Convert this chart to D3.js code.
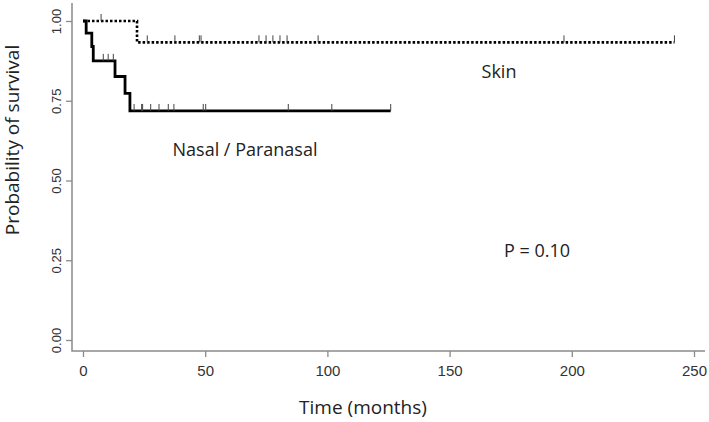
<!DOCTYPE html>
<html>
<head>
<meta charset="utf-8">
<script src="https://cdn.jsdelivr.net/npm/d3@7"></script>
<style>
  body { margin: 0; background: #fff; }
  svg { display: block; }
</style>
</head>
<body>
<svg id="chart" width="709" height="422"></svg>
<script>
// Kaplan-Meier curves
var skinTimes = [0, 22.1, 242];
var skinSurv = [1, 0.933, 0.933];
var skinCensor = [7.4, 26.3, 37.6, 47.6, 48.3, 72, 74.9, 77.7, 80.6, 83.5, 96.2, 196.8, 242];

var nasalTimes = [0, 1.3, 3.6, 4.2, 13.1, 17.2, 19.2, 125.9];
var nasalSurv = [1, 0.962, 0.92, 0.875, 0.826, 0.773, 0.718, 0.718];
var nasalCensor = [8.3, 10.3, 12.4, 20.9, 24.0, 24.4, 27.7, 31.1, 34.9, 37.2, 49.2, 50.2, 84.0, 101.8, 125.9];

var xTicks = [0, 50, 100, 150, 200, 250];
var yTicks = [0, 0.25, 0.5, 0.75, 1];

var svg = d3.select('#chart');
var axisColor = '#8a8a8a';

var x = d3.scaleLinear().domain([0, 250]).range([83, 694]);
var y = d3.scaleLinear().domain([0, 1]).range([340, 21]);

// L shaped frame
svg.append('path')
    .attr('d', 'M72,3V351H705')
    .attr('fill', 'none')
    .attr('stroke', axisColor)
    .attr('stroke-width', 1.5);

// x axis
var gx = svg.append('g')
    .attr('transform', 'translate(0,351)')
    .call(d3.axisBottom(x).tickValues(xTicks).tickSize(6).tickPadding(8).tickFormat(d3.format('d')));
gx.select('.domain').remove();
gx.selectAll('line').attr('stroke', axisColor).attr('stroke-width', 1.3);
gx.selectAll('text')
    .attr('fill', '#333')
    .style('font-family', 'Liberation Sans, Arial, sans-serif')
    .style('font-size', '15px');

// y axis (labels rotated like R)
var gy = svg.append('g')
    .attr('transform', 'translate(72,0)')
    .call(d3.axisLeft(y).tickValues(yTicks).tickSize(6).tickFormat(d3.format('.2f')));
gy.select('.domain').remove();
gy.selectAll('line').attr('stroke', axisColor).attr('stroke-width', 1.3);
gy.selectAll('text')
    .attr('x', null).attr('dy', null)
    .attr('text-anchor', 'middle')
    .attr('transform', 'translate(-11,0) rotate(-90)')
    .attr('fill', '#333')
    .style('font-family', 'Liberation Sans, Arial, sans-serif')
    .style('font-size', '13px');

// step curves
var line = d3.line()
    .x(function (d) { return x(d[0]); })
    .y(function (d) { return y(d[1]); })
    .curve(d3.curveStepAfter);

function stepAt(times, surv, t) {
    var s = surv[0];
    for (var i = 0; i < times.length; i++) {
        if (times[i] <= t) s = surv[i];
    }
    return s;
}

function drawCurve(times, surv, censor, dash, width) {
    var pts = d3.zip(times, surv);
    svg.append('path')
        .attr('d', line(pts))
        .attr('fill', 'none')
        .attr('stroke', '#000')
        .attr('stroke-width', width)
        .attr('stroke-dasharray', dash);
    // censoring marks
    svg.append('g').selectAll('line')
        .data(censor)
        .enter().append('line')
        .attr('x1', function (d) { return x(d); })
        .attr('x2', function (d) { return x(d); })
        .attr('y1', function (d) { return y(stepAt(times, surv, d)); })
        .attr('y2', function (d) { return y(stepAt(times, surv, d)) - 7; })
        .attr('stroke', '#444')
        .attr('stroke-width', 1);
}

drawCurve(skinTimes, skinSurv, skinCensor, '2.5,2', 2.6);
drawCurve(nasalTimes, nasalSurv, nasalCensor, null, 2.8);

// titles and labels
var font = 'Open Sans, Noto Sans, sans-serif';
svg.append('text')
    .attr('x', 363).attr('y', 414)
    .attr('text-anchor', 'middle')
    .style('font-family', font).style('font-size', '19px')
    .attr('fill', '#222')
    .text('Time (months)');

svg.append('text')
    .attr('transform', 'translate(19,140) rotate(-90)')
    .attr('text-anchor', 'middle')
    .style('font-family', font).style('font-size', '19px')
    .attr('fill', '#222')
    .text('Probability of survival');

svg.append('text')
    .attr('x', 499).attr('y', 78)
    .attr('text-anchor', 'middle')
    .style('font-family', font).style('font-size', '18px')
    .attr('fill', '#222')
    .text('Skin');

svg.append('text')
    .attr('x', 245).attr('y', 156)
    .attr('text-anchor', 'middle')
    .style('font-family', font).style('font-size', '18px')
    .attr('fill', '#222')
    .text('Nasal / Paranasal');

svg.append('text')
    .attr('x', 537).attr('y', 257)
    .attr('text-anchor', 'middle')
    .style('font-family', font).style('font-size', '18px')
    .attr('fill', '#222')
    .text('P = 0.10');
</script>
</body>
</html>
